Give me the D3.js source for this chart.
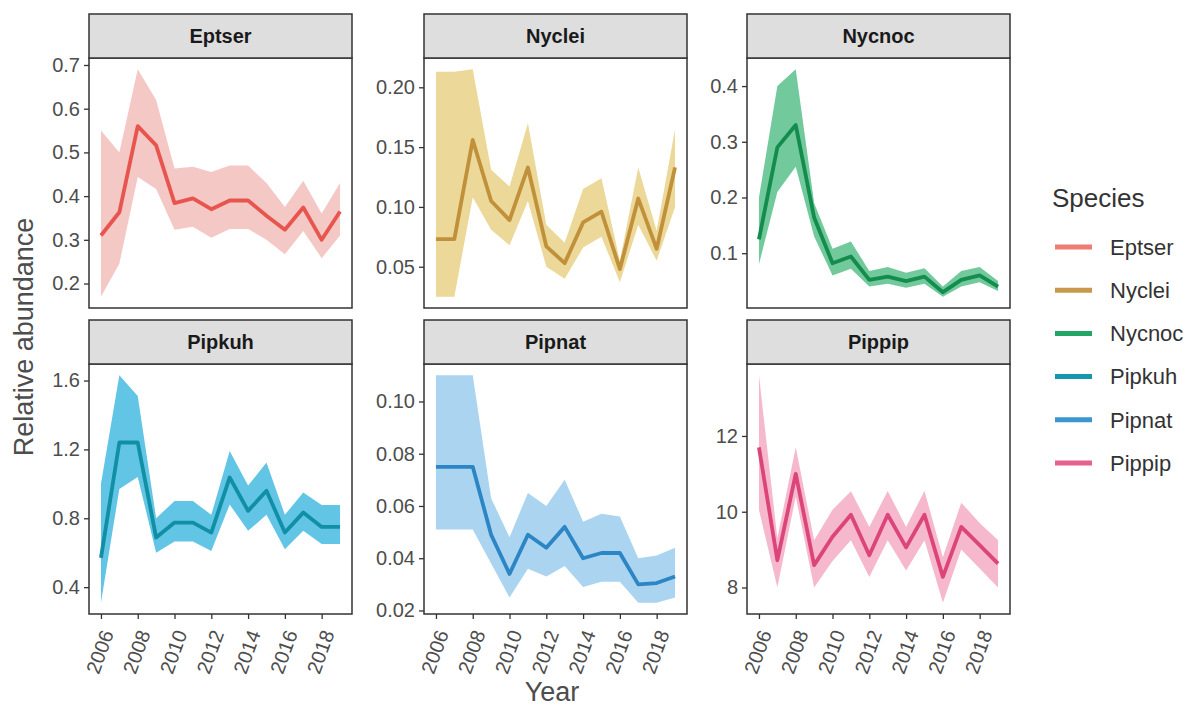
<!DOCTYPE html>
<html>
<head>
<meta charset="utf-8">
<script src="https://cdn.jsdelivr.net/npm/d3@7"></script>
<style>
  body { margin: 0; background: #fff; }
  svg { font-family: "Liberation Sans", Arial, sans-serif; }
</style>
</head>
<body>
<svg id="chart" width="1199" height="709"></svg>
<script>
// ---- data ----
var years = [2006, 2007, 2008, 2009, 2010, 2011, 2012, 2013, 2014, 2015, 2016, 2017, 2018, 2019];
var species = ["Eptser", "Nyclei", "Nycnoc", "Pipkuh", "Pipnat", "Pippip"];

var eptserMean = [0.31, 0.363, 0.56, 0.516, 0.384, 0.395, 0.37, 0.39, 0.39, 0.355, 0.323, 0.374, 0.30, 0.365];
var eptserLo   = [0.17, 0.245, 0.444, 0.416, 0.323, 0.33, 0.305, 0.325, 0.325, 0.30, 0.267, 0.32, 0.258, 0.31];
var eptserHi   = [0.55, 0.50, 0.69, 0.62, 0.463, 0.467, 0.455, 0.47, 0.47, 0.43, 0.375, 0.435, 0.36, 0.43];

var nycleiMean = [0.073, 0.073, 0.156, 0.105, 0.089, 0.133, 0.067, 0.053, 0.087, 0.096, 0.048, 0.107, 0.065, 0.133];
var nycleiLo   = [0.025, 0.025, 0.108, 0.081, 0.068, 0.105, 0.05, 0.04, 0.066, 0.075, 0.037, 0.085, 0.055, 0.10];
var nycleiHi   = [0.213, 0.213, 0.215, 0.131, 0.117, 0.17, 0.085, 0.07, 0.115, 0.124, 0.055, 0.133, 0.08, 0.165];

var nycnocMean = [0.125, 0.29, 0.33, 0.164, 0.082, 0.094, 0.052, 0.058, 0.05, 0.058, 0.03, 0.052, 0.06, 0.04];
var nycnocLo   = [0.08, 0.21, 0.255, 0.13, 0.06, 0.072, 0.04, 0.045, 0.038, 0.045, 0.022, 0.04, 0.048, 0.032];
var nycnocHi   = [0.20, 0.40, 0.43, 0.19, 0.108, 0.121, 0.068, 0.075, 0.065, 0.073, 0.04, 0.068, 0.075, 0.05];

var pipkuhMean = [0.57, 1.24, 1.24, 0.688, 0.775, 0.775, 0.717, 1.037, 0.843, 0.96, 0.717, 0.833, 0.75, 0.75];
var pipkuhLo   = [0.31, 0.97, 1.04, 0.60, 0.665, 0.665, 0.61, 0.88, 0.727, 0.82, 0.62, 0.727, 0.65, 0.65];
var pipkuhHi   = [1.0, 1.63, 1.51, 0.80, 0.90, 0.90, 0.82, 1.19, 0.99, 1.124, 0.82, 0.95, 0.877, 0.877];

var pipnatMean = [0.075, 0.075, 0.075, 0.049, 0.034, 0.049, 0.044, 0.052, 0.040, 0.042, 0.042, 0.030, 0.0305, 0.033];
var pipnatLo   = [0.051, 0.051, 0.051, 0.038, 0.025, 0.036, 0.033, 0.037, 0.029, 0.031, 0.031, 0.023, 0.023, 0.025];
var pipnatHi   = [0.11, 0.11, 0.11, 0.063, 0.048, 0.065, 0.060, 0.070, 0.054, 0.057, 0.056, 0.040, 0.041, 0.044];

var pippipMean = [11.7, 8.72, 11.0, 8.59, 9.34, 9.92, 8.85, 9.92, 9.06, 9.92, 8.28, 9.6, 9.12, 8.63];
var pippipLo   = [10.05, 8.0, 10.4, 8.0, 8.7, 9.25, 8.28, 9.25, 8.45, 9.25, 7.6, 9.0, 8.5, 8.0];
var pippipHi   = [13.6, 9.3, 11.7, 9.25, 10.05, 10.54, 9.6, 10.55, 9.6, 10.55, 8.8, 10.24, 9.7, 9.25];

var eptserTicks = [0.2, 0.3, 0.4, 0.5, 0.6, 0.7];
var nycleiTicks = [0.05, 0.10, 0.15, 0.20];
var nycnocTicks = [0.1, 0.2, 0.3, 0.4];
var pipkuhTicks = [0.4, 0.8, 1.2, 1.6];
var pipnatTicks = [0.02, 0.04, 0.06, 0.08, 0.10];
var pippipTicks = [8, 10, 12];
var yearTicks = [2006, 2008, 2010, 2012, 2014, 2016, 2018];

// ---- styling ----
var lineColors   = ["#E8554F", "#C0913A", "#138C4E", "#108FA5", "#2C85C5", "#DC4579"];
var ribbonColors = ["#F4C8C5", "#ECD898", "#72CA9C", "#62C5E6", "#AAD4F0", "#F6B8CD"];
var legendColors = ["#EE7B74", "#C8994A", "#22A565", "#1596AE", "#3D95D0", "#E5628E"];

var panels = [
  {name: species[0], mean: eptserMean, lo: eptserLo, hi: eptserHi, ticks: eptserTicks},
  {name: species[1], mean: nycleiMean, lo: nycleiLo, hi: nycleiHi, ticks: nycleiTicks},
  {name: species[2], mean: nycnocMean, lo: nycnocLo, hi: nycnocHi, ticks: nycnocTicks},
  {name: species[3], mean: pipkuhMean, lo: pipkuhLo, hi: pipkuhHi, ticks: pipkuhTicks},
  {name: species[4], mean: pipnatMean, lo: pipnatLo, hi: pipnatHi, ticks: pipnatTicks},
  {name: species[5], mean: pippipMean, lo: pippipLo, hi: pippipHi, ticks: pippipTicks}
];

var svg = d3.select("#chart");
svg.append("rect").attr("width", 1199).attr("height", 709).attr("fill", "#fff");

var colLeft = [89, 424, 747];
var stripTop = [14, 320];
var panelW = 263, stripH = 44, panelH = 250;

var span = years[years.length - 1] - years[0];
var x = d3.scaleLinear()
  .domain([years[0] - 0.05 * span, years[years.length - 1] + 0.05 * span])
  .range([0, panelW]);

panels.forEach(function(p, i) {
  var col = i % 3, row = Math.floor(i / 3);
  var g = svg.append("g")
    .attr("transform", "translate(" + colLeft[col] + "," + (stripTop[row] + stripH) + ")");

  var rows = years.map(function(yr, k) { return {year: yr, mean: p.mean[k], lo: p.lo[k], hi: p.hi[k]}; });
  var lo = d3.min(p.lo), hi = d3.max(p.hi), pad = (hi - lo) * 0.05;
  var y = d3.scaleLinear().domain([lo - pad, hi + pad]).range([panelH, 0]);

  g.append("rect").attr("width", panelW).attr("height", panelH).attr("fill", "#fff");

  g.append("path")
    .datum(rows)
    .attr("fill", ribbonColors[i])
    .attr("d", d3.area()
      .x(function(d) { return x(d.year); })
      .y0(function(d) { return y(d.lo); })
      .y1(function(d) { return y(d.hi); }));

  g.append("path")
    .datum(rows)
    .attr("fill", "none")
    .attr("stroke", lineColors[i])
    .attr("stroke-width", 3.8)
    .attr("stroke-linejoin", "round")
    .attr("d", d3.line()
      .x(function(d) { return x(d.year); })
      .y(function(d) { return y(d.mean); }));

  // y axis
  var step = +(p.ticks[1] - p.ticks[0]).toFixed(6);
  var yAxis = g.append("g")
    .call(d3.axisLeft(y)
      .tickValues(p.ticks)
      .tickSize(5)
      .tickPadding(4)
      .tickFormat(d3.format("." + d3.precisionFixed(step) + "f")));
  yAxis.select(".domain").remove();
  yAxis.selectAll("line").attr("stroke", "#333").attr("stroke-width", 1.3);
  yAxis.selectAll("text").attr("fill", "#4d4d4d").attr("font-size", 20).attr("font-family", null);

  // x axis on bottom row only
  if (row === 1) {
    var xAxis = g.append("g")
      .attr("transform", "translate(0," + panelH + ")")
      .call(d3.axisBottom(x)
        .tickValues(yearTicks)
        .tickSize(5)
        .tickFormat(d3.format("d")));
    xAxis.select(".domain").remove();
    xAxis.selectAll("line").attr("stroke", "#333").attr("stroke-width", 1.3);
    xAxis.selectAll("text")
      .attr("fill", "#4d4d4d")
      .attr("font-size", 20)
      .attr("font-family", null)
      .attr("text-anchor", "end")
      .attr("y", null)
      .attr("dy", "0.35em")
      .attr("transform", "translate(6,17) rotate(-70)");
  }

  // panel border
  g.append("rect").attr("width", panelW).attr("height", panelH)
    .attr("fill", "none").attr("stroke", "#333").attr("stroke-width", 1.5);

  // strip
  g.append("rect")
    .attr("y", -stripH).attr("width", panelW).attr("height", stripH)
    .attr("fill", "#dedede").attr("stroke", "#333").attr("stroke-width", 1.5);
  g.append("text")
    .attr("x", panelW / 2).attr("y", -stripH / 2)
    .attr("dy", "0.35em")
    .attr("text-anchor", "middle")
    .attr("font-size", 20).attr("font-weight", "bold").attr("fill", "#1a1a1a")
    .text(p.name);
});

// axis titles
svg.append("text")
  .attr("x", 552).attr("y", 701)
  .attr("text-anchor", "middle")
  .attr("font-size", 27).attr("fill", "#4d4d4d")
  .text("Year");

svg.append("text")
  .attr("transform", "translate(33,337) rotate(-90)")
  .attr("text-anchor", "middle")
  .attr("font-size", 27).attr("fill", "#4d4d4d")
  .text("Relative abundance");

// legend
var legend = svg.append("g").attr("transform", "translate(1052,0)");
legend.append("text")
  .attr("x", 0).attr("y", 207)
  .attr("font-size", 26).attr("fill", "#333")
  .text("Species");

var ly = d3.scalePoint().domain(species).range([247, 463]);
var item = legend.selectAll(".item").data(species).enter().append("g")
  .attr("class", "item")
  .attr("transform", function(d) { return "translate(0," + ly(d) + ")"; });
item.append("line")
  .attr("x1", 3).attr("x2", 40)
  .attr("stroke", function(d, i) { return legendColors[i]; })
  .attr("stroke-width", 5);
item.append("text")
  .attr("x", 58).attr("dy", "0.35em")
  .attr("font-size", 22).attr("fill", "#333")
  .text(function(d) { return d; });
</script>
</body>
</html>
